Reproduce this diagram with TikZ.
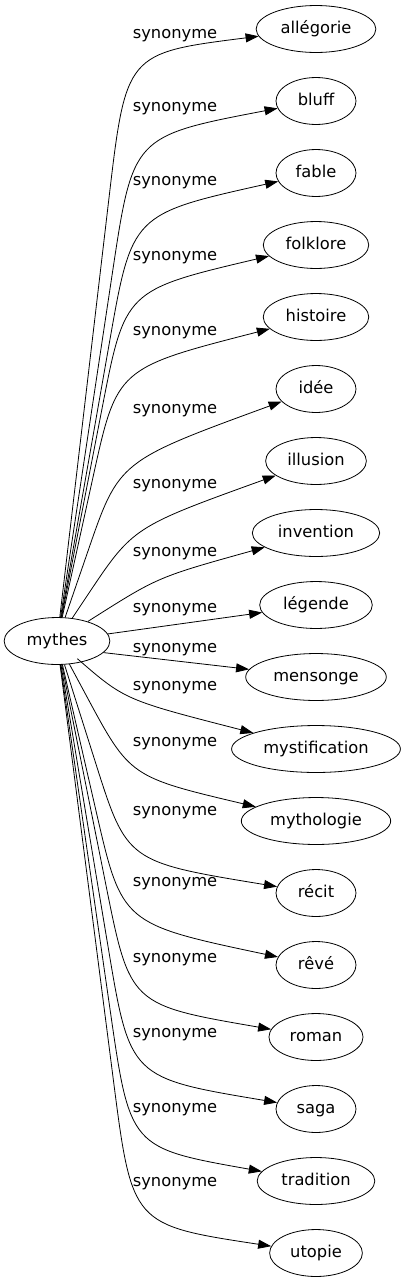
\documentclass[tikz,border=0pt]{standalone}
\usepackage{fontspec}
\setmainfont{DejaVu Sans}
\usetikzlibrary{shapes.geometric,arrows.meta,calc}

\begin{document}
\begin{tikzpicture}[x=1pt, y=-1pt,
    word/.style={draw, ellipse, line width=0.8pt, inner xsep=7pt, inner ysep=8.6pt,
      minimum width=80pt, text height=12pt, text depth=4pt,
      font=\fontsize{16.3pt}{19pt}\selectfont},
    rel/.style={inner sep=0pt, anchor=base, font=\fontsize{16.3pt}{19pt}\selectfont},
    syn/.style={-{Triangle[length=13pt,width=9pt]}, line width=0.8pt}]
  \useasboundingbox (0,0) rectangle (405,1283);

  \node[word] (M) at (57, 641) {mythes};

  \node[word] (Al) at (316, 29) {allégorie};
  \node[word] (Bl) at (316, 101) {bluff};
  \node[word] (Fa) at (316, 173) {fable};
  \node[word] (Fo) at (316, 245) {folklore};
  \node[word] (Hi) at (316, 317) {histoire};
  \node[word] (Id) at (316, 389) {idée};
  \node[word] (Il) at (316, 461) {illusion};
  \node[word] (In) at (316, 533) {invention};
  \node[word] (Le) at (316, 605) {légende};
  \node[word] (Me) at (316, 677) {mensonge};
  \node[word] (Ms) at (316, 749) {mystification};
  \node[word] (Mt) at (316, 821) {mythologie};
  \node[word] (Rc) at (316, 893) {récit};
  \node[word] (Rv) at (316, 965) {rêvé};
  \node[word] (Ro) at (316, 1037) {roman};
  \node[word] (Sa) at (316, 1109) {saga};
  \node[word] (Tr) at (316, 1181) {tradition};
  \node[word] (Ut) at (316, 1253) {utopie};

  % bends of the edges
  \coordinate (kAl) at (126, 53);
  \coordinate (kBl) at (133, 136);
  \coordinate (kFa) at (132, 214);
  \coordinate (kFo) at (125, 290);
  \coordinate (kHi) at (117, 368);
  \coordinate (kId) at (119, 461);
  \coordinate (kIl) at (133, 527);
  \coordinate (kIn) at (158, 577);
  \coordinate (kMs) at (125, 700);
  \coordinate (kMt) at (130, 777);
  \coordinate (kRc) at (127, 862);
  \coordinate (kRv) at (122, 924);
  \coordinate (kRo) at (130, 1005);
  \coordinate (kSa) at (130, 1078);
  \coordinate (kTr) at (130, 1148);
  \coordinate (kUt) at (132, 1225);

  \draw[syn] (M) -- ($(M)!.75!(kAl)$) .. controls (kAl) .. (Al);
  \draw[syn] (M) -- ($(M)!.73!(kBl)$) .. controls (kBl) .. (Bl);
  \draw[syn] (M) -- ($(M)!.7!(kFa)$) .. controls (kFa) .. (Fa);
  \draw[syn] (M) -- ($(M)!.66!(kFo)$) .. controls (kFo) .. (Fo);
  \draw[syn] (M) -- ($(M)!.6!(kHi)$) .. controls (kHi) .. (Hi);
  \draw[syn] (M) -- ($(M)!.5!(kId)$) .. controls (kId) .. (Id);
  \draw[syn] (M) -- ($(M)!.4!(kIl)$) .. controls (kIl) .. (Il);
  \draw[syn] (M) -- ($(M)!.35!(kIn)$) .. controls (kIn) .. (In);
  \draw[syn] (M) -- (Le);
  \draw[syn] (M.-14) -- (Me);
  \draw[syn] (M) -- ($(M)!.3!(kMs)$) .. controls (kMs) .. (Ms);
  \draw[syn] (M) -- ($(M)!.4!(kMt)$) .. controls (kMt) .. (Mt);
  \draw[syn] (M) -- ($(M)!.55!(kRc)$) .. controls (kRc) .. (Rc);
  \draw[syn] (M) -- ($(M)!.6!(kRv)$) .. controls (kRv) .. (Rv);
  \draw[syn] (M) -- ($(M)!.67!(kRo)$) .. controls (kRo) .. (Ro);
  \draw[syn] (M) -- ($(M)!.7!(kSa)$) .. controls (kSa) .. (Sa);
  \draw[syn] (M) -- ($(M)!.73!(kTr)$) .. controls (kTr) .. (Tr);
  \draw[syn] (M) -- ($(M)!.75!(kUt)$) .. controls (kUt) .. (Ut);

  % labels
  \node[rel] (lAl) at (175, 38.6) {synonyme};
  \node[rel] (lBl) at (175, 111.6) {synonyme};
  \node[rel] (lFa) at (175, 185) {synonyme};
  \node[rel] (lFo) at (175, 260) {synonyme};
  \node[rel] (lHi) at (175, 335) {synonyme};
  \node[rel] (lId) at (175, 413.6) {synonyme};
  \node[rel] (lIl) at (175, 488.6) {synonyme};
  \node[rel] (lIn) at (175, 556.6) {synonyme};
  \node[rel] (lLe) at (175, 612.6) {synonyme};
  \node[rel] (lMe) at (175, 652) {synonyme};
  \node[rel] (lMs) at (175, 690) {synonyme};
  \node[rel] (lMt) at (175, 746.6) {synonyme};
  \node[rel] (lRc) at (175, 815) {synonyme};
  \node[rel] (lRv) at (175, 886.6) {synonyme};
  \node[rel] (lRo) at (175, 962.6) {synonyme};
  \node[rel] (lSa) at (175, 1037.6) {synonyme};
  \node[rel] (lTr) at (175, 1112.6) {synonyme};
  \node[rel] (lUt) at (175, 1186.6) {synonyme};
\end{tikzpicture}
\end{document}
